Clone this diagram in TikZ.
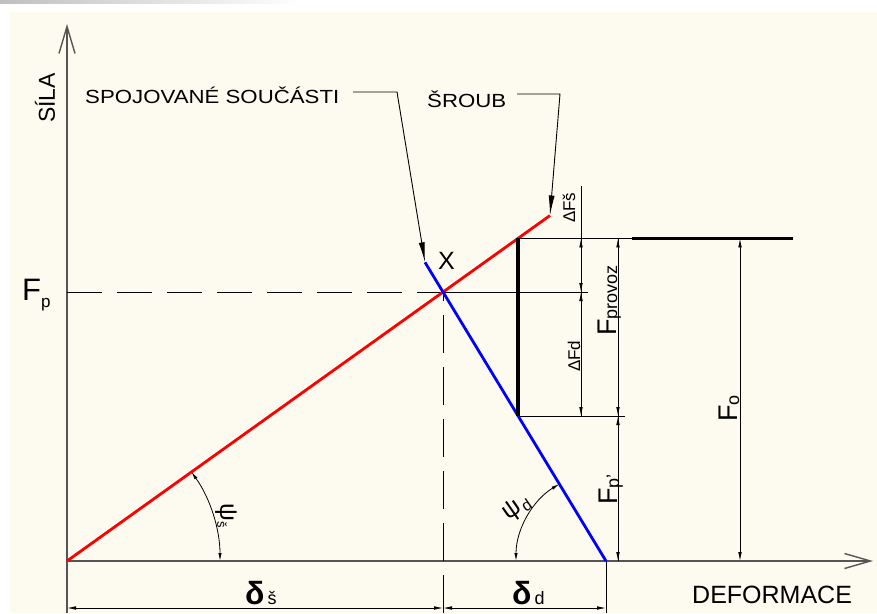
\documentclass[tikz,border=0pt]{standalone}
\usepackage{fontspec}
\setmainfont{Liberation Sans}
\usetikzlibrary{arrows.meta}
\definecolor{cream}{HTML}{FDFBF0}
\definecolor{axisgray}{HTML}{555555}
\begin{document}
\begin{tikzpicture}[x=1pt,y=-1pt,
  axis/.style={draw=axisgray,line width=1.4pt},
  dim/.style={draw=black,line width=0.8pt},
  da/.style={-{Latex[length=9pt,width=3.6pt]}},
  dda/.style={{Latex[length=9pt,width=3.6pt]}-{Latex[length=9pt,width=3.6pt]}},
  lead/.style={draw=black,line width=0.9pt,-{Latex[length=20pt,width=6pt]}},
  thick line/.style={line width=2.8pt},
  lbl/.style={inner sep=0pt},
  fs/.style={font=\fontsize{#1}{#1}\selectfont}
]
\useasboundingbox (0,0) rectangle (877,613);
\fill[white] (0,0) rectangle (877,613);
\fill[cream] (10,12) rectangle (877,613);
\shade[left color=gray!50,right color=white] (0,0) rectangle (300,3);

% key points
\coordinate (O) at (67,561);
\coordinate (Ybot) at (67,613);
\coordinate (Ytop) at (67,24);
\coordinate (Xend) at (873,561);
\coordinate (X) at (443,292);
\coordinate (R) at (550,215.5);
\coordinate (B0) at (425,262.3);
\coordinate (Bd) at (606,561);
\coordinate (Rk) at (518,238.4);
\coordinate (Bk) at (518,416);
\coordinate (Fp) at (67,292);
\coordinate (Hd) at (418,292);
\coordinate (He) at (588,292);
\coordinate (Xb) at (443,613);
\coordinate (Bb) at (606,613);
\coordinate (T1) at (632,238.4);
\coordinate (T2) at (793,238.4);
\coordinate (E2) at (625,416);

% axes
\draw[axis,-{Straight Barb[length=27pt,width=16pt]}] (Ybot) -- (Ytop);
\draw[axis,-{Straight Barb[length=26pt,width=15pt]}] (O) -- (Xend);

% dashed guides
\draw[dim,dash pattern=on 35pt off 15pt] (Fp) -- (Hd);
\draw[dim,dash pattern=on 38pt off 14pt] (Xb) -- (X);
\draw[dim] (Hd) -- (He);

% extension lines
\draw[dim] (Rk) -- (T1);
\draw[line width=3pt] (T1) -- (T2);
\draw[dim] (Bk) -- (E2);
\draw[dim] (Bd) -- (Bb);

% characteristic lines
\draw[red,thick line] (O) -- (R);
\draw[blue,thick line] (B0) -- (Bd);
\draw[line width=3.2pt] (Rk) -- (Bk);

% dimension  dF
\coordinate (a1) at (581,186);
\coordinate (a2) at (581,416);
\draw[dim] (a1) -- (a2);
\draw[dim,da] (581,252) -- (581,238.4);
\draw[dim,da] (581,278) -- (581,292);
\draw[dim,da] (581,306) -- (581,292);
\draw[dim,da] (581,402) -- (581,416);

% F provoz / Fp'
\coordinate (b1) at (618,238.4);
\coordinate (b2) at (618,561);
\draw[dim] (b1) -- (b2);
\draw[dim,da] (618,252) -- (618,238.4);
\draw[dim,da] (618,402) -- (618,416);
\draw[dim,da] (618,430) -- (618,416);
\draw[dim,da] (618,547) -- (618,561);

% F o
\coordinate (c1) at (740,238.4);
\coordinate (c2) at (740,561);
\draw[dim,dda] (c1) -- (c2);

% delta dims
\coordinate (d1) at (67,608);
\coordinate (d2) at (443,608);
\coordinate (d3) at (606,608);
\draw[dim,dda] (d1) -- (d2);
\draw[dim,dda] (d2) -- (d3);

% angle arcs
\draw[dim,{Latex[length=8pt,width=3.4pt]}-{Latex[length=8pt,width=3.4pt]}] (220,561) arc[start angle=0,end angle=35.6,radius=153pt];
\draw[dim,{Latex[length=8pt,width=3.4pt]}-{Latex[length=8pt,width=3.4pt]}] (516,561) arc[start angle=180,end angle=121.2,radius=90pt];

% leaders
\coordinate (s1) at (353,92);
\coordinate (s2) at (397,92);
\draw[lead] (s1) -- (s2) -- (B0);
\coordinate (r1) at (517,94);
\coordinate (r2) at (560,94);
\draw[lead] (r1) -- (r2) -- (R);

% labels
\node[lbl,fs=23,rotate=90] (sila) at (45,98) {SÍLA};
\node[lbl,fs=31,anchor=base west] (fpl) at (22,300) {F\raisebox{-7pt}{\fontsize{17}{17}\selectfont p}};
\node[lbl,fs=19,anchor=base west,xscale=1.17] (spoj) at (85,103) {SPOJOVANÉ SOUČÁSTI};
\node[lbl,fs=19,anchor=base west,xscale=1.17] (sroub) at (427,107) {ŠROUB};
\node[lbl,fs=25,anchor=base west] (xl) at (438,269) {X};
\node[lbl,fs=17,rotate=90,anchor=base west] (dfs) at (575,223) {ΔFš};
\node[lbl,fs=17,rotate=90,anchor=base west] (dfd) at (580,372) {ΔFd};
\node[lbl,fs=27,rotate=90,anchor=base west] (fprov) at (616,336) {F\raisebox{-1pt}{\fontsize{18}{18}\selectfont provoz}};
\node[lbl,fs=27,rotate=90,anchor=base west] (fo) at (737,422) {F\raisebox{-2pt}{\fontsize{18}{18}\selectfont o}};
\node[lbl,fs=27,rotate=90,anchor=base west] (fpp) at (617,505) {F\raisebox{-2pt}{\fontsize{18}{18}\selectfont p'}};
\node[lbl,anchor=base west] (ds) at (245,604) {{\fontsize{32}{32}\selectfont\bfseries δ}\kern3pt{\fontsize{18}{18}\selectfont š}};
\node[lbl,anchor=base west] (dd) at (512,604) {{\fontsize{32}{32}\selectfont\bfseries δ}\kern3pt{\fontsize{18}{18}\selectfont d}};
\node[lbl,fs=25,rotate=-90] (psis) at (226,516) {ψ\raisebox{-3pt}{\fontsize{13}{13}\selectfont š}};
\node[lbl,fs=25,rotate=35] (psid) at (517,508) {ψ\kern1.5pt\raisebox{-3pt}{\fontsize{16}{16}\selectfont d}};
\node[lbl,fs=25,anchor=base west] (defo) at (692,603) {DEFORMACE};
\end{tikzpicture}
\end{document}
